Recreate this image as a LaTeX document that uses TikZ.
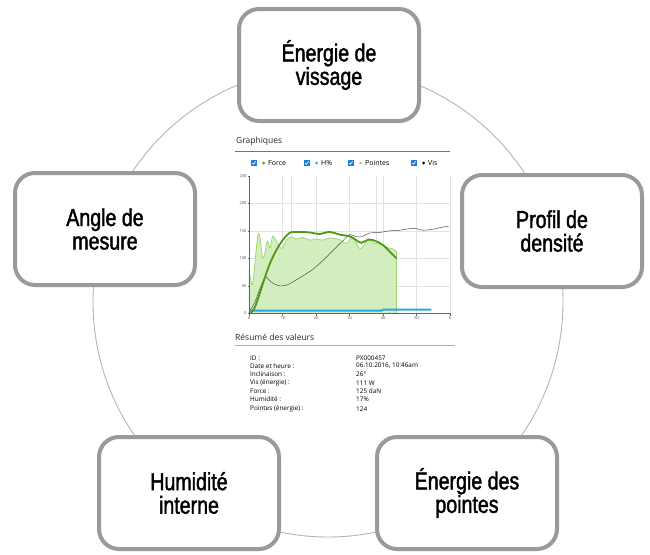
\documentclass[tikz,border=0pt]{standalone}
\usepackage{fontspec}
\setmainfont[FakeStretch=0.8]{Liberation Sans}
\newfontfamily\boxfont[FakeStretch=0.8,FakeBold=1.6]{Liberation Sans}
\newfontfamily\chartfont{Open Sans}
\usetikzlibrary{calc}
\definecolor{boxgray}{HTML}{9A9A9A}
\definecolor{ringgray}{HTML}{B4B4B4}
\definecolor{forcegreen}{HTML}{4C9A12}
\definecolor{ptsgreen}{HTML}{9AD46A}
\definecolor{ptsfill}{HTML}{D3EEBE}
\definecolor{hblue}{HTML}{2AA4EA}
\definecolor{chkblue}{HTML}{1E7FD8}
\definecolor{gridgray}{HTML}{E2E2E2}
\tikzstyle{topic}=[rectangle,rounded corners=20pt,draw=boxgray,line width=4pt,fill=white,minimum width=180pt,minimum height=112pt,inner sep=0pt,align=center,font=\boxfont\fontsize{24.5}{23.5}\selectfont]
\tikzstyle{ring} = [draw=ringgray,line width=0.9pt]
\tikzstyle{gridline} = [draw=gridgray,line width=0.6pt]
\tikzstyle{axisline} = [draw=black!60,line width=0.6pt]
\tikzstyle{ticklabel} = [font=\chartfont\fontsize{4}{4}\selectfont,text=black!70,inner sep=1pt]
\tikzstyle{chartlabel} = [font=\chartfont\fontsize{6.4}{7}\selectfont,anchor=west,inner sep=0pt]
\tikzstyle{legendlabel} = [font=\chartfont\fontsize{7}{7}\selectfont,anchor=west,inner sep=0pt]
\tikzstyle{heading} = [font=\chartfont\fontsize{8.5}{9}\selectfont,anchor=base west,inner sep=0pt,text=black!85]
\tikzstyle{chk} = [rectangle,fill=chkblue,minimum size=5.5pt,inner sep=0pt,
  path picture={\draw[white,line width=0.6pt] ([shift={(-1.7pt,0pt)}]path picture bounding box.center) -- ++(1.1pt,-1.3pt) -- ++(2.2pt,2.8pt);}]
\tikzstyle{dot} = [circle,minimum size=3pt,inner sep=0pt]

\begin{document}
\begin{tikzpicture}[x=1pt,y=-1pt]
    \useasboundingbox (0,0) rectangle (650,554);
    % The ring runs behind the five boxes
    \coordinate (hub) at (328,302);
    \draw[ring] (hub) circle [radius=235pt];

    % First we draw the five boxes
    \foreach \pos/\name/\txt in {{(329,65)/vissage/{Énergie de\\vissage}},{(105,229)/angle/{Angle de\\mesure}},
        {(552,231)/densite/{Profil de\\densité}},{(189,493)/humidite/{Humidité\\interne}},{(467,493)/pointes/{Énergie des\\pointes}}}
        \node[topic] (\name) at \pos {\txt};

    % Then the screenshot in the middle: header and legend
    \node[heading] (graphiques) at (236,143) {Graphiques};
    \draw[black!55,line width=0.8pt] (235,151) -- (450,151);
    \foreach \x/\col/\lbl/\name in {254/forcegreen/Force/force, 307/hblue/H\%/hum, 351/ptsgreen/Pointes/pts, 414/black/Vis/vis} {
        \node[chk] (cb\name) at (\x,163) {};
        \node[dot,fill=\col] (dot\name) at (\x+9.5,163) {};
        \node[legendlabel] (lbl\name) at (\x+14,163) {\lbl};
    }

    % The plot itself, in data units
    \begin{scope}[shift={(249.3,313.3)},x=3.345pt,y=0.55pt]
        \foreach \gx in {10,12.6,20,30,37.9,40,50,60}
            \draw[gridline] (\gx,0) -- (\gx,250);
        \foreach \gy in {50,100,150,200}
            \draw[gridline] (0,\gy) -- (60,\gy);

        % Pointes, filled
        \fill[ptsfill] (0,0) -- plot[smooth,tension=0.55] coordinates {(0,80) (1,54) (2.7,145) (4.1,100) (5.4,131) (6.2,119) (7,140) (8.2,130) (9.7,118) (11.2,134) (12.6,139) (14,135) (16,138) (18,133) (20,135) (22,133) (24,137) (27,134) (29,127) (31,137) (33.2,117) (35.4,133) (37.5,127) (39.5,125) (41.5,119) (43,117) (44,113)} -- (44,0) -- cycle;
        \draw[ptsgreen,line width=0.7pt] (0,0) -- plot[smooth,tension=0.55] coordinates {(0,80) (1,54) (2.7,145) (4.1,100) (5.4,131) (6.2,119) (7,140) (8.2,130) (9.7,118) (11.2,134) (12.6,139) (14,135) (16,138) (18,133) (20,135) (22,133) (24,137) (27,134) (29,127) (31,137) (33.2,117) (35.4,133) (37.5,127) (39.5,125) (41.5,119) (43,117) (44,113)} -- (44,0);

        % H%
        \draw[hblue,line width=2pt] (0,5) -- (39.5,5) -- (40,6.5) -- (54.4,6.5);

        % Vis
        \draw[black!70,line width=0.5pt] plot[smooth,tension=0.6] coordinates {(0,4) (1.5,18) (3,42) (4.2,60) (5,66) (6,60) (7.5,53) (9,50) (11,51) (13,57) (16,68) (19,80) (22,96) (25,114) (28,132) (30,143) (32,139) (33.5,139) (36,146) (39,147) (42,150) (45,151) (48,154) (50,154) (52,151) (55,153) (58,157) (59.6,158)};

        % Force
        \draw[forcegreen,line width=1.8pt] plot[smooth,tension=0.6] coordinates {(0,0) (1,4) (2,16) (3,34) (4.5,62) (6,88) (8,114) (10,133) (12,146) (14,148) (18,147) (21,144) (24,148) (27,143) (30,140) (32,133) (33.5,128) (35.5,134) (37.5,132) (40,124) (42,112) (44,100)};

        % Axes, ticks and numbers
        \draw[axisline] (0,250) -- (0,0) -- (60,0);
        \foreach \v in {0,50,...,250} {
            \draw[axisline] (-0.5,\v) -- (0,\v);
            \node[ticklabel,anchor=east] (yl\v) at (-0.5,\v) {\v};
        }
        \foreach \v/\t in {0/0,10/10,20/20,30/30,40/40,50/50,60/6} {
            \draw[axisline] (\v,0) -- (\v,-4);
            \node[ticklabel,anchor=north] (xl\v) at (\v,-4) {\t};
        }
    \end{scope}

    % Summary of the values
    \node[heading] (resume) at (235,340) {Résumé des valeurs};
    \draw[black!30,line width=0.7pt] (235,345.7) -- (455,345.7);
    \foreach \y/\key/\val/\name in {358/ID :/PX000457/id, 366/Date et heure :/{06.10.2016, 10:46am}/date,
        374.5/Inclinaison :/26°/incl, 383/Vis (énergie) :/111 W/vis, 391.5/Force :/125 daN/force,
        399.5/Humidité :/17\%/hum, 409/Pointes (énergie) :/124/pts} {
        \node[chartlabel] (key\name) at (250,\y) {\key};
        \node[chartlabel] (val\name) at (356,\y) {\val};
    }
\end{tikzpicture}
\end{document}
